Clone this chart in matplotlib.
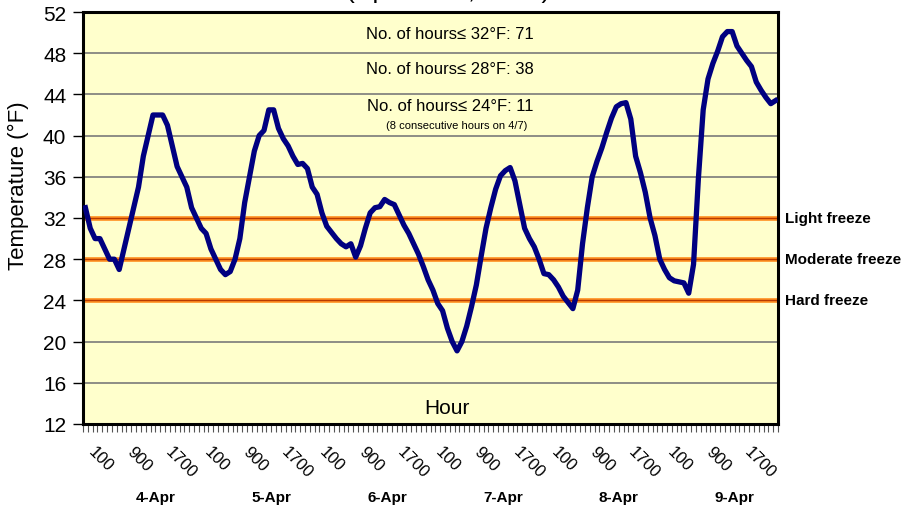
import matplotlib.pyplot as plt
import matplotlib.transforms as mtransforms
import numpy as np

plt.rcParams['font.family'] = ['Liberation Sans', 'DejaVu Sans']

# hourly air temperature (F), 1:00 to 24:00 each day
days = ['4-Apr', '5-Apr', '6-Apr', '7-Apr', '8-Apr', '9-Apr']
hour_labels = ['100', '900', '1700']

temp_apr4 = [33, 31, 30, 30, 29, 28, 28, 27, 29, 31, 33, 35,
             38, 40, 42, 42, 42, 41, 39, 37, 36, 35, 33, 32]
temp_apr5 = [31, 30.5, 29, 28, 27, 26.5, 26.8, 28, 30, 33.5, 36, 38.5,
             40, 40.5, 42.5, 42.5, 40.7, 39.7, 39, 38, 37.2, 37.3, 36.8, 35]
temp_apr6 = [34.3, 32.5, 31.2, 30.6, 30, 29.5, 29.2, 29.5, 28.2, 29.3, 31, 32.5,
             33, 33.1, 33.8, 33.5, 33.3, 32.3, 31.3, 30.5, 29.5, 28.5, 27.3, 26]
temp_apr7 = [25, 23.7, 23, 21.3, 20, 19.1, 20, 21.5, 23.4, 25.5, 28.3, 31,
             33, 34.8, 36.1, 36.6, 36.9, 35.6, 33.3, 31, 30, 29.2, 28, 26.6]
temp_apr8 = [26.5, 26, 25.3, 24.4, 23.8, 23.2, 25, 29.5, 33, 36, 37.5, 38.8,
             40.3, 41.7, 42.8, 43.1, 43.2, 41.6, 38, 36.4, 34.5, 32, 30.3, 28]
temp_apr9 = [27, 26.2, 25.9, 25.8, 25.7, 24.7, 27.5, 35.8, 42.5, 45.5, 47, 48.2,
             49.6, 50.1, 50.1, 48.7, 48, 47.3, 46.7, 45.2, 44.4, 43.7, 43.1, 43.4]

temps = temp_apr4 + temp_apr5 + temp_apr6 + temp_apr7 + temp_apr8 + temp_apr9

freeze_levels = [32, 28, 24]
freeze_names = ['Light freeze', 'Moderate freeze', 'Hard freeze']
hour_counts = [71, 38, 11]

W, H = 902, 510
fig = plt.figure(figsize=(W / 100, H / 100), dpi=100)
ax = fig.add_axes([83 / W, 85 / H, 695 / W, 412 / H])
ax.set_facecolor('#FFFFCC')

x = np.arange(len(temps))

ax.set_ylim(12, 52)
ax.set_yticks(np.arange(12, 53, 4))
ax.yaxis.grid(True, color='#7a7a7a', lw=1.2)
ax.set_axisbelow(True)

for lvl in freeze_levels:
    ax.axhline(lvl, color='#FF9326', lw=3.4, zorder=2)
    ax.axhline(lvl, color='#B83A00', lw=1.0, zorder=2.1)

ax.plot(x, temps, color='#000080', lw=3.8, zorder=3, solid_joinstyle='round')

ax.set_xlim(-0.5, len(temps) - 0.5)
tick_pos = x[::8]
ax.set_xticks(tick_pos)
ax.set_xticklabels([hour_labels[k % 3] for k in range(len(tick_pos))],
                   rotation=-45, ha='left', va='top', fontsize=12,
                   rotation_mode='default')
ax.set_xticks(np.arange(-0.5, len(temps), 1), minor=True)
ax.tick_params(axis='x', which='major', length=0, pad=14)
ax.tick_params(axis='x', which='minor', length=6, width=0.8, color='#555555')
ax.tick_params(axis='y', length=7, width=1, pad=5, labelsize=15)

for s in ax.spines.values():
    s.set_linewidth(2.2)
    s.set_color('black')

trans = mtransforms.blended_transform_factory(ax.transData, ax.transAxes)
for d, day in enumerate(days):
    ax.text(24 * d + 14.5, -0.177, day, transform=trans, ha='center', va='center',
            fontsize=11, fontweight='bold')

trans_r = mtransforms.blended_transform_factory(ax.transAxes, ax.transData)
for lvl, name in zip(freeze_levels, freeze_names):
    ax.text(1.01, lvl, name, transform=trans_r, ha='left', va='center',
            fontsize=11, fontweight='bold', clip_on=False)

ys = [0.949, 0.862, 0.772]
for lvl, n, yy in zip(freeze_levels, hour_counts, ys):
    ax.text(0.528, yy, 'No. of hours\u2264 %d\u00b0F: %d' % (lvl, n),
            transform=ax.transAxes, ha='center', va='center', fontsize=12)
ax.text(0.537, 0.726, '(8 consecutive hours on 4/7)', transform=ax.transAxes,
        ha='center', va='center', fontsize=8)
ax.text(0.524, 0.041, 'Hour', transform=ax.transAxes, ha='center', va='center',
        fontsize=15)

fig.text(18 / W, 1 - 186 / H, 'Temperature (\u00b0F)', rotation=90,
         ha='center', va='center', fontsize=16)
# title sits mostly above the top edge, as in the source image
fig.text(448 / W, 1.004, '(April 4 - 9, 2007)', ha='center', va='baseline',
         fontsize=19)

fig.savefig('out.png', dpi=100)
